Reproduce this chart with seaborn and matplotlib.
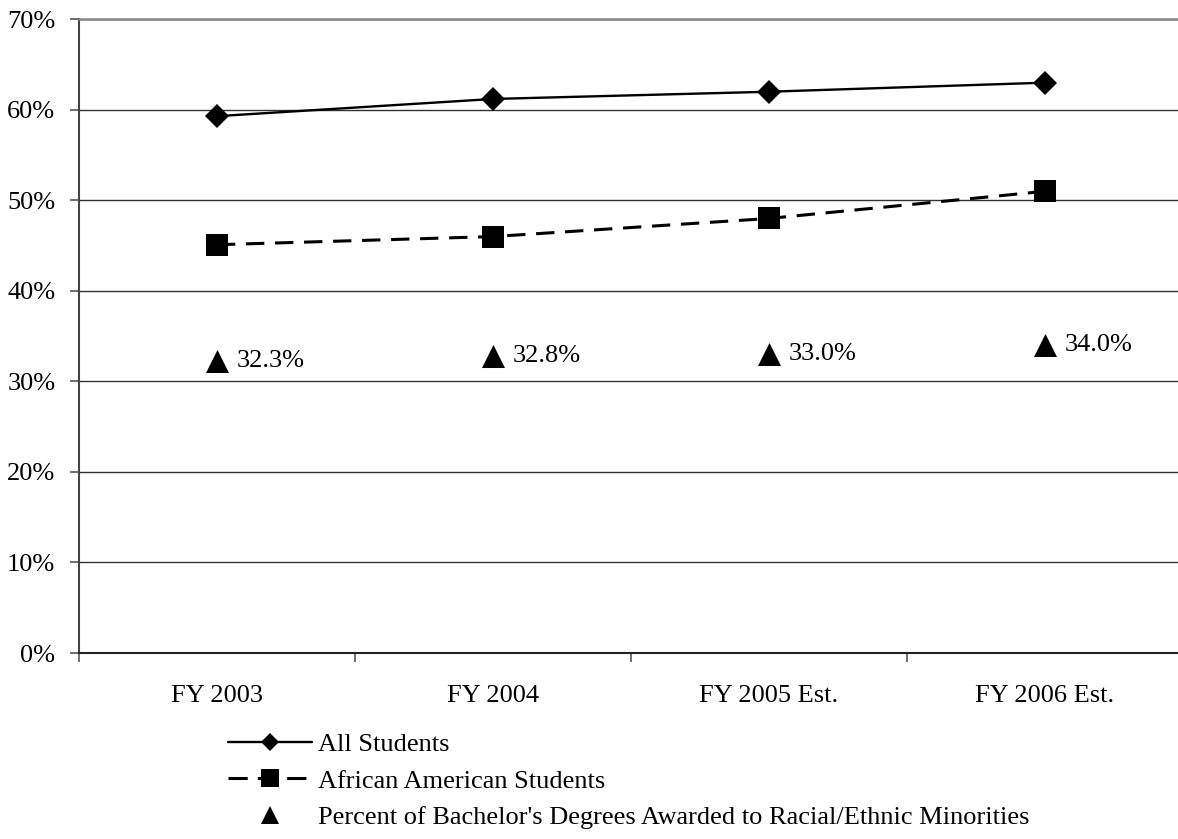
# graduation rates chart, redrawn with seaborn

import matplotlib.pyplot as plt
import seaborn as sns
import pandas as pd
from matplotlib.lines import Line2D
from matplotlib.ticker import FixedLocator, PercentFormatter

years = ["FY 2003", "FY 2004", "FY 2005 Est.", "FY 2006 Est."]
all_students = [59.3, 61.2, 62.0, 63.0]
african_american = [45.1, 46.0, 48.0, 51.0]
minority_degrees = [32.3, 32.8, 33.0, 34.0]

labels = [
    "All Students",
    "African American Students",
    "Percent of Bachelor's Degrees Awarded to Racial/Ethnic Minorities",
]


def main():
    sns.set_theme(style="white")
    plt.rcParams["font.family"] = ["Liberation Serif", "DejaVu Serif"]
    plt.rcParams["text.color"] = "black"
    plt.rcParams["xtick.color"] = "black"
    plt.rcParams["ytick.color"] = "black"
    fs = 19

    df = pd.DataFrame(
        {
            "x": range(len(years)),
            "all": all_students,
            "aa": african_american,
            "min": minority_degrees,
        }
    )

    fig = plt.figure(figsize=(11.78, 8.39), dpi=100)
    ax = fig.add_axes([79 / 1178, 1 - 653 / 839, 1 - 79 / 1178, (653 - 19.3) / 839])

    dash = (0, (6, 3.5))
    sns.lineplot(data=df, x="x", y="all", ax=ax, color="black", lw=1.7,
                 marker="D", markersize=12, markeredgewidth=0)
    sns.lineplot(data=df, x="x", y="aa", ax=ax, color="black", lw=2.2,
                 marker="s", markersize=16.5, markeredgewidth=0,
                 dashes=False, linestyle=dash)
    sns.scatterplot(data=df, x="x", y="min", ax=ax, color="black",
                    marker="^", s=275, linewidth=0)

    for x, v in zip(df["x"], minority_degrees):
        ax.annotate(f"{v:.1f}%", (x, v), xytext=(14, 0), textcoords="offset points",
                    va="center", ha="left", fontsize=fs)

    ax.set_ylim(0, 70)
    ax.set_xlim(-0.5, 3.5 - 5 / 276)
    ax.set_yticks(range(0, 71, 10))
    ax.yaxis.set_major_formatter(PercentFormatter(decimals=0))
    ax.set_xticks(range(len(years)))
    ax.set_xticklabels(years)
    ax.xaxis.set_minor_locator(FixedLocator([-0.5, 0.5, 1.5, 2.5, 3.5]))
    ax.tick_params(axis="x", which="major", length=0, pad=23, labelsize=fs)
    ax.tick_params(axis="x", which="minor", bottom=True, length=6.5,
                   width=1.2, color="#555555")
    ax.tick_params(axis="y", left=True, length=6.5, width=1.2, color="#555555",
                   pad=10.5, labelsize=fs)
    ax.set_xlabel("")
    ax.set_ylabel("")

    ax.grid(axis="y", color="#333333", lw=1.0)
    ax.grid(axis="x", visible=False)
    ax.set_axisbelow(True)
    for side in ["left", "bottom"]:
        ax.spines[side].set_color("#444444")
        ax.spines[side].set_linewidth(1.5)
    ax.spines["bottom"].set_color("#222222")
    ax.spines["top"].set_color("#888888")
    ax.spines["top"].set_linewidth(1.8)
    ax.spines["right"].set_visible(False)

    handles = [
        Line2D([], [], color="black", lw=1.7, marker="D", markersize=9.2,
               markeredgewidth=0),
        Line2D([], [], color="black", lw=2.2, marker="s", markersize=13,
               markeredgewidth=0, linestyle=(0, (6.3, 3.3))),
        Line2D([], [], color="black", lw=0, marker="^", markersize=13.5,
               markeredgewidth=0),
    ]
    fig.legend(handles, labels, loc="upper left",
               bbox_to_anchor=(228 / 1178, 1 - 733 / 839),
               frameon=False, fontsize=fs, handlelength=3.2, handletextpad=0.2,
               labelspacing=0.48, borderpad=0, borderaxespad=0)

    fig.savefig("out.png", dpi=100)
    plt.close(fig)


if __name__ == "__main__":
    main()
